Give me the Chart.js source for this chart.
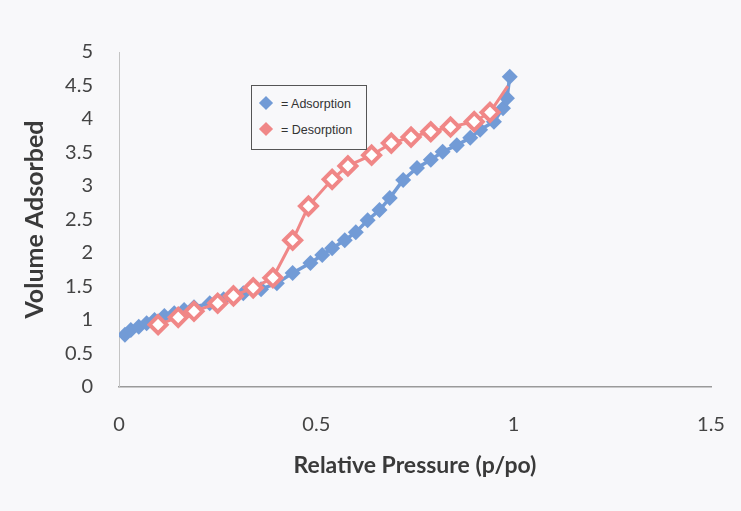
<!DOCTYPE html>
<html>
<head>
<meta charset="utf-8">
<script src="https://cdn.jsdelivr.net/npm/chart.js@4"></script>
<style>
  html, body { margin:0; padding:0; background:#f8f8fa; }
  #wrap { position:relative; width:741px; height:511px; }
  #legend { position:absolute; left:251px; top:85px; width:114px; height:63px; border:1px solid #555; background:#f8f8fa;
            font-family:"Liberation Sans Narrow","Liberation Sans",sans-serif; font-size:12.5px; color:#333; }
  .item { position:absolute; left:9px; height:16px; line-height:16px; }
  .dia { position:absolute; left:0; top:2px; width:10px; height:10px; transform:rotate(45deg); }
  .lbl { position:absolute; left:20px; top:0; white-space:nowrap; }
</style>
</head>
<body>
<div id="wrap">
  <canvas id="c" width="741" height="511"></canvas>
  <div id="legend">
    <div class="item" style="top:10px"><div class="dia" style="background:#729bd6"></div><span class="lbl">= Adsorption</span></div>
    <div class="item" style="top:36px"><div class="dia" style="background:#f08787"></div><span class="lbl">= Desorption</span></div>
  </div>
</div>
<script>
const adsorptionX = [0.015,0.03,0.05,0.07,0.09,0.115,0.14,0.165,0.19,0.23,0.265,0.295,0.315,0.36,0.40,0.44,0.485,0.515,0.54,0.572,0.60,0.63,0.66,0.686,0.72,0.755,0.79,0.82,0.856,0.89,0.915,0.95,0.973,0.983,0.99];
const adsorptionY = [0.78,0.85,0.90,0.95,1.00,1.06,1.10,1.15,1.19,1.25,1.31,1.36,1.40,1.46,1.55,1.70,1.85,1.97,2.07,2.19,2.31,2.49,2.64,2.82,3.09,3.27,3.39,3.51,3.61,3.72,3.84,3.96,4.16,4.31,4.63];
const desorptionX = [0.099,0.15,0.19,0.25,0.29,0.34,0.39,0.44,0.48,0.54,0.58,0.64,0.69,0.74,0.79,0.84,0.90,0.94,0.985];
const desorptionY = [0.93,1.04,1.13,1.25,1.36,1.48,1.63,2.19,2.70,3.10,3.30,3.46,3.64,3.73,3.81,3.88,3.96,4.10,4.49];
const xTicks = [0, 0.5, 1, 1.5];
const xTickLabels = ["0", "0.5", "1", "1.5"];
const yTicks = [0, 0.5, 1, 1.5, 2, 2.5, 3, 3.5, 4, 4.5, 5];
const yTickLabels = ["0", "0.5", "1", "1.5", "2", "2.5", "3", "3.5", "4", "4.5", "5"];
const seriesNames = ["= Adsorption", "= Desorption"];
const xTitle = "Relative Pressure (p/po)";
const yTitle = "Volume Adsorbed";

const toPts = (xs, ys) => xs.map((x, i) => ({x: x, y: ys[i]}));

new Chart(document.getElementById('c'), {
  type: 'scatter',
  data: {
    datasets: [
      {
        label: seriesNames[1],
        data: toPts(desorptionX, desorptionY),
        showLine: true,
        borderColor: '#f08787',
        borderWidth: 3,
        pointStyle: 'rectRot',
        pointRadius: ctx => ctx.dataIndex === desorptionX.length - 1 ? 0 : 8.5,
        pointBorderWidth: 4,
        pointBorderColor: '#f08787',
        pointBackgroundColor: '#ffffff',
        order: 1
      },
      {
        label: seriesNames[0],
        data: toPts(adsorptionX, adsorptionY),
        showLine: true,
        borderColor: '#729bd6',
        borderWidth: 3.5,
        pointStyle: 'rectRot',
        pointRadius: 8,
        pointBorderWidth: 0,
        pointBackgroundColor: '#729bd6',
        order: 2
      }
    ]
  },
  options: {
    responsive: false,
    animation: false,
    layout: { padding: { top: 52, right: 30, left: 20, bottom: 28 } },
    plugins: { legend: { display: false }, tooltip: { enabled: false } },
    scales: {
      x: {
        type: 'linear', min: 0, max: 1.5,
        afterBuildTicks: s => { s.ticks = xTicks.map(v => ({value: v})); },
        afterFit: s => { s.height = 96; s.paddingRight = 0; s.paddingLeft = 0; },
        grid: { display: false, drawTicks: false },
        border: { display: true, color: '#9a9a9a', width: 1.5 },
        ticks: { padding: 26, color: '#444', font: { family: 'Lato', size: 20 },
                 callback: v => xTickLabels[xTicks.indexOf(v)] },
        title: { display: true, text: xTitle, color: '#3a3a3a', padding: { top: 0, bottom: 4 }, font: { family: 'Lato', size: 23, weight: 'bold' } }
      },
      y: {
        type: 'linear', min: 0, max: 5,
        afterBuildTicks: s => { s.ticks = yTicks.map(v => ({value: v})); },
        afterFit: s => { s.width = 99; },
        grid: { display: false, drawTicks: false },
        border: { display: true, color: '#c4c4c4', width: 1 },
        ticks: { padding: 26, color: '#444', font: { family: 'Lato', size: 20 },
                 callback: v => yTickLabels[yTicks.indexOf(v)] },
        title: { display: true, text: yTitle, color: '#3a3a3a', padding: { top: 0, bottom: 0 }, font: { family: 'Lato', size: 25, weight: 'bold' } }
      }
    }
  }
});
</script>
</body>
</html>
